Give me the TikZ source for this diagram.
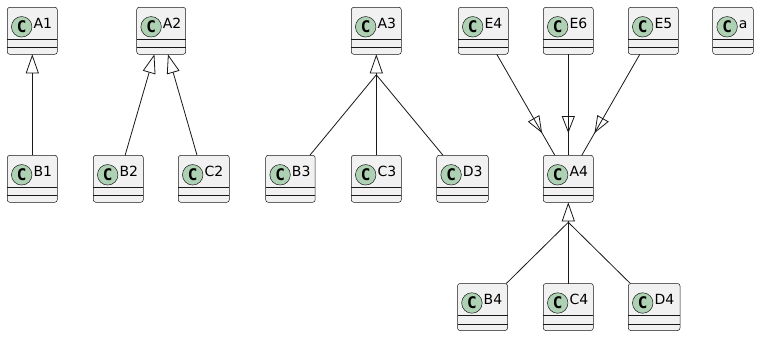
\documentclass[tikz,border=0pt]{standalone}
\usepackage{fontspec}
\setmainfont{DejaVu Sans}
\newfontfamily\circfont{DejaVu Sans Mono}
\usetikzlibrary{arrows.meta,calc,decorations.markings}
\definecolor{bord}{HTML}{181818}
\definecolor{boxfill}{HTML}{F1F1F1}
\definecolor{circfill}{HTML}{ADD1B2}
\tikzset{
  cls/.style={rectangle, draw=bord, fill=boxfill, line width=0.5pt, rounded corners=2.5pt,
    minimum height=47pt, inner sep=0pt, outer sep=0pt},
  sepline/.style={draw=bord, line width=0.5pt},
  circ/.style={circle, draw=bord, fill=circfill, line width=0.5pt, minimum size=20.5pt,
    inner sep=0pt, font=\circfont\bfseries\fontsize{16}{16}\selectfont},
  lbl/.style={inner sep=0pt, font=\fontsize{14}{16}\selectfont, text=black},
  edge/.style={draw=bord, line width=0.8pt},
  ext/.tip={Triangle[open, length=19pt, width=13pt, line width=0.8pt]},
  midext/.style={postaction={decorate}, decoration={markings,
    mark=at position #1 with {\arrow{Triangle[open, length=17pt, width=13pt, line width=0.8pt]}}}}
}
\newcommand\umlcls[5]{%
  \node[cls, minimum width=#4pt, anchor=north west] (#1) at (#2,#3) {};
  \draw[sepline] ($(#1.north west)+(0,32)$) -- ($(#1.north east)+(0,32)$);
  \draw[sepline] ($(#1.north west)+(0,40.4)$) -- ($(#1.north east)+(0,40.4)$);
  \node[circ] (#1c) at ($(#1.north west)+(14.4,19.5)$) {C};
  \node[lbl, anchor=base west] (#1t) at ($(#1.north west)+(26,21)$) {#5};
}
\begin{document}
\begin{tikzpicture}[x=1pt, y=-1pt]
\useasboundingbox[fill=white] (0,0) rectangle (767,345);
\umlcls{A1}{7.3}{7.3}{50}{A1}
\umlcls{B1}{7.3}{155.3}{50}{B1}
\umlcls{A2}{136.7}{7.3}{49}{A2}
\umlcls{B2}{93.3}{155.3}{50}{B2}
\umlcls{C2}{178.3}{155.3}{51}{C2}
\umlcls{A3}{351.3}{7.3}{50}{A3}
\umlcls{B3}{265.7}{155.3}{49.5}{B3}
\umlcls{C3}{351.3}{155.3}{50}{C3}
\umlcls{D3}{436.7}{155.3}{51.6}{D3}
\umlcls{E4}{458.3}{7.3}{50}{E4}
\umlcls{E6}{543.3}{7.3}{50}{E6}
\umlcls{E5}{628.3}{7.3}{50}{E5}
\umlcls{a}{712.7}{7.3}{40.6}{a}
\umlcls{A4}{543.3}{155.3}{50}{A4}
\umlcls{B4}{457.5}{283.5}{50}{B4}
\umlcls{C4}{543.3}{283.5}{50}{C4}
\umlcls{D4}{628.3}{283.5}{51.7}{D4}
% A1, A2
\draw[edge, -ext] (B1) -- (A1);
\draw[edge, -ext] (B2) -- (A2);
\draw[edge, -ext] (C2) -- (A2);
% A3 fan
\coordinate (J3) at ($(A3.south)+(0,20.5)$);
\draw[edge] (B3) -- (J3);
\draw[edge] (C3) -- (J3);
\draw[edge] (D3) -- (J3);
\draw[edge, -ext] (J3) -- (A3.south);
% E -> A4
\draw[edge, midext=0.78] (E4) -- (A4);
\draw[edge, midext=0.78] (E6) -- (A4);
\draw[edge, midext=0.78] (E5) -- (A4);
% A4 fan
\coordinate (J4) at ($(A4.south)+(0,20)$);
\draw[edge] (B4) -- (J4);
\draw[edge] (C4) -- (J4);
\draw[edge] (D4) -- (J4);
\draw[edge, -ext] (J4) -- (A4.south);
\end{tikzpicture}
\end{document}
